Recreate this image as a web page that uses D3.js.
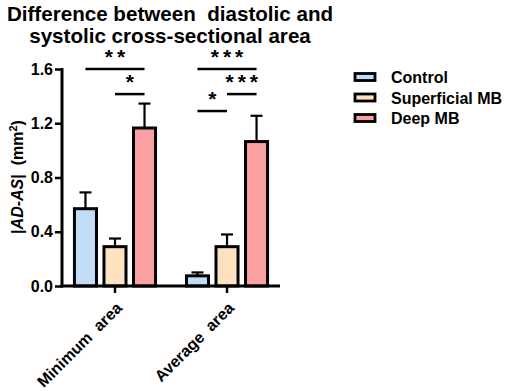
<!DOCTYPE html>
<html>
<head>
<meta charset="utf-8">
<script src="https://cdn.jsdelivr.net/npm/d3@7/dist/d3.min.js"></script>
<style>
  body { margin: 0; background: #fff; }
  text { font-family: "Liberation Sans", Arial, sans-serif; font-weight: bold; fill: #000; white-space: pre; }
</style>
</head>
<body>
<div id="chart"></div>
<script>
    var groups = ['Minimum  area', 'Average  area'];
    var series = ['Control', 'Superficial MB', 'Deep MB'];
    var colors = ['#c0ddf5', '#fde2bf', '#f9a0a2'];
    var means = [[0.57, 0.29, 1.165], [0.075, 0.29, 1.065]];
    var errs = [[0.12, 0.06, 0.18], [0.025, 0.09, 0.19]];
    var yTicks = [0, 0.4, 0.8, 1.2, 1.6];
    // significance brackets: group, from series, to series, y value, stars
    var sigs = [
        { g: 0, a: 0, b: 2, y: 1.6, s: '**' },
        { g: 0, a: 1, b: 2, y: 1.415, s: '*' },
        { g: 1, a: 0, b: 2, y: 1.6, s: '***' },
        { g: 1, a: 1, b: 2, y: 1.415, s: '***' },
        { g: 1, a: 0, b: 1, y: 1.29, s: '*' }
    ];

    var width = 505, height = 391;
    var svg = d3.select('#chart').append('svg')
        .attr('width', width)
        .attr('height', height);

    var x0 = 62, x1 = 280, y0 = 286, y1 = 69;
    var yScale = d3.scaleLinear().domain([0, 1.6]).range([y0, y1]);
    var xGroup = d3.scaleBand().domain(groups).range([x0, x1]).paddingInner(0.196).paddingOuter(0.071);
    var xBar = d3.scaleBand().domain(series).range([0, xGroup.bandwidth()]).paddingInner(0.254).paddingOuter(0.152);

    // title
    svg.append('text').attr('x', 170).attr('y', 21).attr('text-anchor', 'middle')
        .style('font-size', '20.6px').text('Difference between  diastolic and');
    svg.append('text').attr('x', 170).attr('y', 43).attr('text-anchor', 'middle')
        .style('font-size', '20.6px').text('systolic cross-sectional area');

    // bars with error bars
    groups.forEach(function(gName, gi) {
        var gx = xGroup(gName);
        var bars = svg.append('g').attr('transform', 'translate(' + gx + ',0)');
        series.forEach(function(s, si) {
            var v = means[gi][si], e = errs[gi][si];
            var bx = xBar(s), bw = xBar.bandwidth();
            var cx = bx + bw / 2;
            bars.append('line')
                .attr('x1', cx).attr('x2', cx)
                .attr('y1', yScale(v)).attr('y2', yScale(v + e))
                .attr('stroke', '#000').attr('stroke-width', 2.2);
            bars.append('line')
                .attr('x1', cx - 6).attr('x2', cx + 6)
                .attr('y1', yScale(v + e)).attr('y2', yScale(v + e))
                .attr('stroke', '#000').attr('stroke-width', 2.2);
            bars.append('rect')
                .attr('x', bx).attr('width', bw)
                .attr('y', yScale(v)).attr('height', yScale(0) - yScale(v))
                .attr('fill', colors[si]).attr('stroke', '#000').attr('stroke-width', 3);
        });
    });

    // y axis
    var yAxis = svg.append('g')
        .attr('transform', 'translate(' + x0 + ',0)')
        .call(d3.axisLeft(yScale).tickValues(yTicks).tickFormat(d3.format('.1f')).tickSize(7).tickPadding(2));
    yAxis.select('.domain').attr('stroke-width', 3).attr('d', 'M0,' + (y1 - 1) + 'V' + (y0 + 1.5));
    yAxis.selectAll('.tick line').attr('stroke-width', 2.5);
    yAxis.selectAll('.tick text').style('font-size', '16px').style('font-family', '"Liberation Sans", Arial, sans-serif').style('font-weight', 'bold').attr('fill', '#000');

    // x axis
    var xAxis = svg.append('g')
        .attr('transform', 'translate(0,' + y0 + ')')
        .call(d3.axisBottom(xGroup).tickSize(7).tickFormat(''));
    xAxis.select('.domain').attr('stroke-width', 3).attr('d', 'M' + (x0 - 1.5) + ',0H' + x1);
    xAxis.selectAll('.tick line').attr('stroke-width', 2.5);
    groups.forEach(function(gName) {
        var tx = xGroup(gName) + xGroup.bandwidth() / 2;
        svg.append('text')
            .attr('transform', 'translate(' + (tx + 8) + ',' + (y0 + 23) + ') rotate(-45)')
            .attr('text-anchor', 'end')
            .style('font-size', '16px')
            .text(gName);
    });

    // y label
    var yl = svg.append('text')
        .attr('transform', 'translate(23,177) rotate(-90)')
        .attr('text-anchor', 'middle')
        .style('font-size', '16px');
    yl.append('tspan').text('|');
    yl.append('tspan').style('font-style', 'italic').text('AD-AS');
    yl.append('tspan').text('|  (mm');
    yl.append('tspan').attr('dy', -6).style('font-size', '11px').text('2');
    yl.append('tspan').attr('dy', 6).text(')');

    // significance brackets
    sigs.forEach(function(d) {
        var gx = xGroup(groups[d.g]);
        var xa = gx + xBar(series[d.a]) + xBar.bandwidth() / 2;
        var xb = gx + xBar(series[d.b]) + xBar.bandwidth() / 2;
        var yy = yScale(d.y);
        svg.append('line').attr('x1', xa).attr('x2', xb).attr('y1', yy).attr('y2', yy)
            .attr('stroke', '#000').attr('stroke-width', 2.5);
        svg.append('text').attr('x', (xa + xb) / 2 + 2).attr('y', yy - 5).attr('text-anchor', 'middle')
            .style('font-size', '21px').style('letter-spacing', '4px').text(d.s);
    });

    // legend
    var legend = svg.append('g').attr('transform', 'translate(355,77)');
    series.forEach(function(s, i) {
        var row = legend.append('g').attr('transform', 'translate(0,' + (i * 20.5) + ')');
        row.append('rect').attr('x', 0).attr('y', -3.5).attr('width', 20).attr('height', 7)
            .attr('fill', colors[i]).attr('stroke', '#000').attr('stroke-width', 2.8);
        row.append('text').attr('x', 36).attr('y', 6).style('font-size', '16px').text(s);
    });
</script>
</body>
</html>
